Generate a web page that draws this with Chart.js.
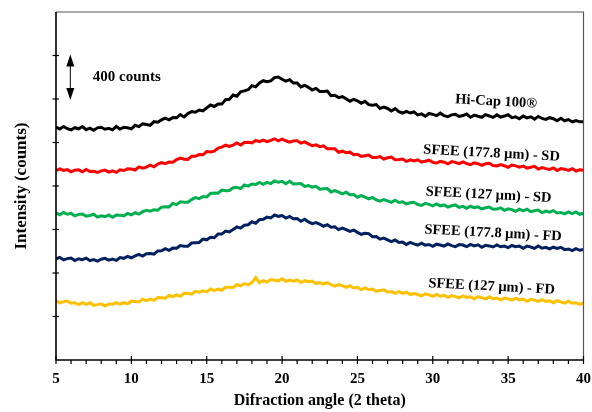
<!DOCTYPE html>
<html>
<head>
<meta charset="utf-8">
<script src="https://cdn.jsdelivr.net/npm/chart.js@4.4.0/dist/chart.umd.min.js"></script>
<style>
    html, body { margin: 0; padding: 0; background: #fff; }
    #wrap { width: 592px; height: 412px; }
</style>
</head>
<body>
<div id="wrap"><canvas id="xrdChart" width="592" height="412"></canvas></div>
<script>
// scan grid: 2 theta from 5 to 40 in 0.25 steps
const angleStart = 5;
const angleStep = 0.25;

// stacked diffraction patterns (counts, already offset for display)
const hiCap = [
    2143, 2124, 2147, 2127, 2117, 2136, 2126, 2147, 2118, 2132, 2113, 2135,
    2140, 2122, 2131, 2117, 2147, 2123, 2140, 2136, 2126, 2158, 2146, 2172,
    2165, 2157, 2192, 2187, 2208, 2224, 2208, 2229, 2227, 2256, 2235, 2266,
    2284, 2278, 2299, 2291, 2319, 2345, 2331, 2353, 2353, 2394, 2398, 2436,
    2425, 2466, 2475, 2485, 2523, 2512, 2547, 2568, 2559, 2566, 2597, 2602,
    2582, 2564, 2578, 2547, 2548, 2511, 2526, 2507, 2483, 2497, 2469, 2470,
    2473, 2431, 2434, 2413, 2422, 2402, 2380, 2397, 2384, 2361, 2378, 2348,
    2342, 2349, 2313, 2325, 2313, 2289, 2311, 2283, 2271, 2286, 2271, 2281,
    2254, 2263, 2241, 2267, 2259, 2247, 2270, 2247, 2238, 2254, 2259, 2239,
    2248, 2262, 2232, 2252, 2241, 2232, 2256, 2244, 2231, 2254, 2234, 2243,
    2255, 2228, 2236, 2218, 2243, 2226, 2236, 2215, 2240, 2221, 2212, 2228,
    2219, 2199, 2222, 2200, 2211, 2189, 2201, 2190, 2191
];
const sfee178SD = [
    1741, 1757, 1743, 1751, 1731, 1745, 1749, 1731, 1752, 1733, 1735, 1724,
    1739, 1746, 1728, 1739, 1725, 1749, 1742, 1758, 1756, 1747, 1776, 1764,
    1774, 1791, 1776, 1802, 1816, 1806, 1821, 1818, 1842, 1857, 1847, 1845,
    1873, 1873, 1889, 1887, 1917, 1912, 1920, 1948, 1957, 1975, 1963, 1976,
    1995, 1977, 2000, 2003, 1996, 2019, 2007, 2022, 2007, 2019, 2034, 2015,
    2031, 2016, 2003, 2015, 2016, 1994, 2006, 1988, 1970, 1978, 1962, 1970,
    1942, 1943, 1942, 1910, 1920, 1906, 1911, 1887, 1892, 1872, 1879, 1884,
    1862, 1863, 1871, 1848, 1860, 1866, 1841, 1844, 1848, 1826, 1841, 1830,
    1841, 1820, 1828, 1837, 1817, 1811, 1826, 1819, 1803, 1824, 1817, 1806,
    1822, 1806, 1797, 1814, 1805, 1789, 1804, 1809, 1789, 1784, 1797, 1786,
    1772, 1793, 1785, 1774, 1784, 1765, 1772, 1781, 1755, 1769, 1760, 1753,
    1766, 1742, 1760, 1755, 1744, 1760, 1738, 1749, 1744
];
const sfee127SD = [
    1352, 1336, 1356, 1340, 1348, 1325, 1339, 1343, 1323, 1329, 1340, 1314,
    1325, 1317, 1334, 1312, 1332, 1330, 1324, 1348, 1334, 1354, 1341, 1364,
    1377, 1368, 1382, 1377, 1406, 1410, 1408, 1440, 1429, 1454, 1451, 1450,
    1475, 1494, 1484, 1503, 1500, 1531, 1536, 1534, 1563, 1557, 1559, 1584,
    1587, 1577, 1610, 1599, 1618, 1614, 1633, 1616, 1634, 1622, 1646, 1634,
    1643, 1621, 1643, 1618, 1621, 1622, 1596, 1604, 1590, 1597, 1571, 1575,
    1576, 1545, 1558, 1544, 1528, 1543, 1519, 1521, 1497, 1512, 1497, 1482,
    1494, 1472, 1461, 1476, 1464, 1450, 1470, 1449, 1454, 1435, 1446, 1450,
    1430, 1421, 1440, 1431, 1418, 1436, 1418, 1426, 1406, 1418, 1426, 1403,
    1413, 1394, 1414, 1401, 1408, 1389, 1400, 1406, 1386, 1388, 1399, 1376,
    1390, 1383, 1367, 1387, 1372, 1387, 1364, 1372, 1378, 1355, 1369, 1360,
    1373, 1352, 1357, 1344, 1362, 1347, 1362, 1340, 1350
];
const sfee178FD = [
    929, 944, 921, 932, 938, 914, 931, 922, 937, 914, 923, 910,
    927, 935, 918, 928, 916, 942, 935, 953, 940, 957, 972, 956,
    977, 979, 974, 1003, 1004, 1024, 1009, 1029, 1027, 1053, 1047, 1047,
    1076, 1079, 1081, 1112, 1105, 1129, 1124, 1158, 1158, 1185, 1178, 1201,
    1224, 1213, 1240, 1244, 1271, 1258, 1290, 1294, 1314, 1307, 1333, 1321,
    1328, 1305, 1320, 1298, 1300, 1276, 1294, 1270, 1254, 1264, 1249, 1230,
    1244, 1221, 1225, 1199, 1213, 1199, 1182, 1195, 1174, 1156, 1166, 1162,
    1134, 1135, 1111, 1121, 1105, 1089, 1103, 1080, 1084, 1062, 1081, 1068,
    1057, 1075, 1056, 1062, 1046, 1065, 1057, 1047, 1067, 1052, 1042, 1061,
    1057, 1042, 1063, 1049, 1059, 1036, 1054, 1049, 1039, 1058, 1041, 1048,
    1033, 1053, 1041, 1047, 1028, 1047, 1039, 1027, 1048, 1028, 1036, 1021,
    1037, 1025, 1036, 1015, 1021, 1006, 1024, 1009, 1016
];
const sfee127FD = [
    545, 526, 537, 542, 522, 527, 510, 527, 512, 526, 503, 509,
    516, 497, 516, 511, 527, 513, 527, 517, 541, 537, 533, 559,
    545, 561, 549, 575, 572, 568, 593, 583, 599, 585, 613, 611,
    606, 632, 623, 636, 626, 653, 638, 653, 641, 668, 669, 666,
    692, 682, 703, 691, 712, 758, 710, 729, 717, 740, 733, 728,
    748, 724, 736, 725, 737, 712, 729, 719, 726, 703, 712, 697,
    712, 692, 679, 693, 683, 667, 683, 662, 668, 646, 663, 648,
    652, 631, 640, 646, 624, 629, 612, 629, 612, 624, 602, 611,
    602, 589, 608, 599, 586, 603, 586, 594, 576, 592, 583, 572,
    590, 575, 581, 563, 582, 574, 562, 581, 562, 570, 553, 570,
    562, 550, 569, 553, 560, 540, 558, 550, 539, 554, 538, 545,
    527, 545, 535, 523, 541, 522, 527, 512, 524
];

const seriesNames = ['Hi-Cap 100®', 'SFEE (177.8 μm) - SD', 'SFEE (127 μm) - SD', 'SFEE (177.8 μm) - FD', 'SFEE (127 μm) - FD'];
const seriesData = [hiCap, sfee178SD, sfee127SD, sfee178FD, sfee127FD];
const seriesColors = ['#000000', '#ff0000', '#00b050', '#002060', '#ffc000'];

// where each curve name sits (2 theta, counts)
const labelAngles = [34.2, 33.9, 33.7, 34.0, 33.9];
const labelCounts = [2375, 1900, 1517, 1165, 674];

// 400-count scale bar
const barAngle = 5.95;
const barFrom = 2400;
const barTo = 2800;
const barText = '400 counts';
const barTextAngle = 9.7;

const yMax = 3200;
const yStep = 400;

function toPoints(values) {
    return values.map((v, i) => ({ x: angleStart + i * angleStep, y: v }));
}

function line(ctx, x1, y1, x2, y2) {
    ctx.beginPath();
    ctx.moveTo(x1, y1);
    ctx.lineTo(x2, y2);
    ctx.stroke();
}

const serif = "'Liberation Serif', 'Times New Roman', serif";

// frame, tick marks, scale bar and curve names
const decorations = {
    id: 'decorations',
    afterDraw(chart) {
        const { ctx, chartArea: a, scales: { x, y } } = chart;
        ctx.save();

        ctx.strokeStyle = '#555555';
        ctx.lineWidth = 1.2;
        ctx.beginPath();
        ctx.moveTo(a.left, a.top);
        ctx.lineTo(a.right, a.top);
        ctx.lineTo(a.right, a.bottom);
        ctx.stroke();

        ctx.strokeStyle = '#000';
        ctx.lineWidth = 1.6;
        ctx.beginPath();
        ctx.moveTo(a.left, a.top);
        ctx.lineTo(a.left, a.bottom);
        ctx.lineTo(a.right, a.bottom);
        ctx.stroke();

        ctx.lineWidth = 1.2;
        for (let v = yStep; v < yMax; v += yStep) {
            const py = y.getPixelForValue(v);
            line(ctx, a.left - 3.5, py, a.left + 3, py);
        }
        for (let t = 5; t <= 40; t++) {
            const px = x.getPixelForValue(t);
            if (t % 5 === 0) line(ctx, px, a.bottom - 4, px, a.bottom + 4);
            else line(ctx, px, a.bottom, px, a.bottom + 4);
        }

        // scale bar with arrow heads
        const bx = x.getPixelForValue(barAngle);
        const by1 = y.getPixelForValue(barTo);
        const by2 = y.getPixelForValue(barFrom);
        ctx.lineWidth = 1;
        line(ctx, bx, by1 + 6, bx, by2 - 6);
        ctx.fillStyle = '#000';
        ctx.beginPath();
        ctx.moveTo(bx, by1 - 1);
        ctx.lineTo(bx - 4, by1 + 11);
        ctx.lineTo(bx + 4, by1 + 11);
        ctx.closePath();
        ctx.fill();
        ctx.beginPath();
        ctx.moveTo(bx, by2 + 1);
        ctx.lineTo(bx - 4, by2 - 11);
        ctx.lineTo(bx + 4, by2 - 11);
        ctx.closePath();
        ctx.fill();

        ctx.textAlign = 'center';
        ctx.textBaseline = 'middle';
        ctx.font = 'bold 15px ' + serif;
        ctx.fillText(barText, x.getPixelForValue(barTextAngle), y.getPixelForValue((barFrom + barTo) / 2 + 5));

        ctx.font = 'bold 14.5px ' + serif;
        seriesNames.forEach((name, i) => {
            ctx.save();
            ctx.translate(x.getPixelForValue(labelAngles[i]), y.getPixelForValue(labelCounts[i]));
            ctx.rotate(3 * Math.PI / 180);
            ctx.fillText(name, 0, 0);
            ctx.restore();
        });

        ctx.restore();
    }
};

new Chart(document.getElementById('xrdChart'), {
    type: 'line',
    data: {
        datasets: seriesData.map((values, i) => ({
            label: seriesNames[i],
            data: toPoints(values),
            borderColor: seriesColors[i],
            borderWidth: 3,
            pointRadius: 0,
            tension: 0
        }))
    },
    options: {
        responsive: false,
        animation: false,
        layout: { padding: { top: 12, right: 8.5, left: 0, bottom: 0 } },
        plugins: {
            legend: { display: false },
            tooltip: { enabled: false }
        },
        scales: {
            x: {
                type: 'linear',
                min: 5,
                max: 40,
                grid: { display: false, drawTicks: false },
                border: { display: false },
                ticks: {
                    stepSize: 5,
                    padding: 10,
                    color: '#000',
                    font: { family: serif, size: 15, weight: 'bold' }
                },
                title: {
                    display: true,
                    text: 'Difraction angle (2 theta)',
                    color: '#000',
                    padding: { top: 0, bottom: 2 },
                    font: { family: serif, size: 16, weight: 'bold' }
                },
                afterFit(scale) {
                    scale.height = 52;
                    scale.paddingLeft = 0;
                    scale.paddingRight = 0;
                }
            },
            y: {
                min: 0,
                max: yMax,
                grid: { display: false, drawTicks: false },
                border: { display: false },
                ticks: { display: false, stepSize: yStep },
                title: {
                    display: true,
                    text: 'Intensity (counts)',
                    color: '#000',
                    padding: { top: 11, bottom: 0 },
                    font: { family: serif, size: 17, weight: 'bold' }
                },
                afterFit(scale) { scale.width = 56; }
            }
        }
    },
    plugins: [decorations]
});
</script>
</body>
</html>
